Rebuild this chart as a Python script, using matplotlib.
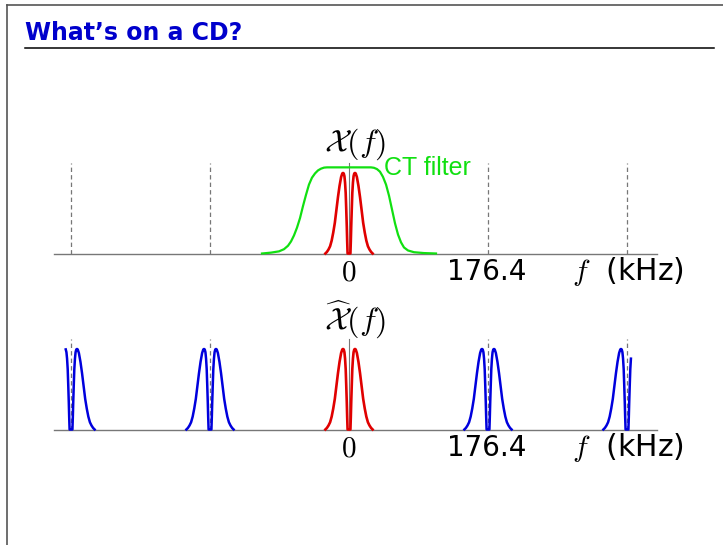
import numpy as np
import matplotlib
matplotlib.use("Agg")
import matplotlib.pyplot as plt

plt.rcParams['mathtext.fontset'] = 'cm'
plt.rcParams['font.family'] = ['DejaVu Sans']

# %% Values (frequency in kHz, heights relative to the audio peak)

fs_up = 176.4                      # oversampled rate, spectral copies sit at its multiples
copy_centres = [-2 * fs_up, -fs_up, fs_up, 2 * fs_up]
dash_at = [-2 * fs_up, -fs_up, fs_up, 2 * fs_up]
tick_labels = ['0', '176.4']
spec_range = (-360.0, 358.5)       # where the plotted spectrum stops
axis_range = (-374.0, 391.0)

# one side of the audio spectrum (positive f, mirrored for negative f)
hump_f = [1.8, 2.3, 2.8, 3.5, 4.2, 5.0, 5.8, 6.7, 7.6, 8.5, 10.0, 12.0, 14.0,
          16.0, 18.0, 20.0, 22.0, 24.0, 26.0, 28.0, 30.0]
hump_y = [0.0, 0.15, 0.33, 0.55, 0.75, 0.88, 0.96, 0.995, 1.0, 0.995, 0.95, 0.84,
          0.70, 0.54, 0.38, 0.26, 0.16, 0.09, 0.05, 0.02, 0.0]

# continuous-time reconstruction filter
ct_f = [-110.4, -99.0, -88.8, -82.5, -77.4, -73.6, -69.8, -66.0, -62.2, -58.4,
        -54.6, -50.8, -47.0, -43.1, -39.3, -35.5, -31.7, -27.9,
        27.9, 31.7, 35.5, 39.3, 43.1, 47.0, 50.8, 54.6, 58.4, 62.2, 66.0, 69.8,
        74.9, 82.5, 95.2, 110.4]
ct_y = [0.0, 0.01, 0.025, 0.05, 0.09, 0.14, 0.21, 0.30, 0.41, 0.55,
        0.68, 0.80, 0.88, 0.93, 0.965, 0.985, 0.997, 1.0,
        1.0, 0.995, 0.98, 0.95, 0.89, 0.80, 0.67, 0.51, 0.35, 0.22, 0.13, 0.07,
        0.035, 0.015, 0.005, 0.0]
ct_scale = 1.07
dash_top = 1.13

red = '#e00000'
blue = '#0000dd'
green = '#11e011'
grey = '#777777'

# full two-sided audio spectrum
hf = np.array(hump_f)
hy = np.array(hump_y)
audio_f = np.concatenate([-hf[::-1], [0.0], hf])
audio_y = np.concatenate([hy[::-1], [0.0], hy])

# %% Figure

fig = plt.figure(figsize=(7.23, 5.45), dpi=100)

# slide frame and title (pixel coordinates)
bg = fig.add_axes([0, 0, 1, 1])
bg.set_xlim(0, 723)
bg.set_ylim(545, 0)
bg.axis('off')
bg.plot([7, 7], [5, 545], color='#555555', lw=1.2)
bg.plot([7, 723], [5, 5], color='#555555', lw=1.2)
bg.plot([25, 714], [48, 48], color='black', lw=1.1)
bg.text(25, 39.5, 'What\u2019s on a CD?', color='#0000cc', fontsize=17,
        fontweight='bold', va='baseline', ha='left')

kpx = 1.2691   # kHz per pixel
unit = 80.5    # pixels per unit height


def make_axes(top_px, bot_px, axis_px):
    ax = fig.add_axes([0, 1 - bot_px / 545, 1, (bot_px - top_px) / 545])
    ax.set_xlim(-349 * kpx, (723 - 349) * kpx)
    ax.set_ylim(-(bot_px - axis_px) / unit, (axis_px - top_px) / unit)
    ax.axis('off')
    return ax


def frame_axis(ax):
    for d in dash_at:
        ax.plot([d, d], [0, dash_top], color=grey, lw=0.9, dashes=(3.5, 2.5), zorder=1)
    ax.plot([0, 0], [0, dash_top], color=grey, lw=0.8, zorder=1)
    ax.plot(axis_range, [0, 0], color=grey, lw=1.0, zorder=1)
    ax.text(0, -0.33, '$' + tick_labels[0] + '$', fontsize=21, ha='center', va='baseline')
    ax.text(fs_up - 1.5, -0.33, tick_labels[1], fontsize=20, ha='center', va='baseline')
    ax.text(2 * fs_up + 1.0, -0.33, '$f$  (kHz)', fontsize=21.5, ha='center', va='baseline')


# top: original spectrum and CT filter
ax1 = make_axes(100, 290, 253.5)
frame_axis(ax1)
ax1.plot(ct_f, np.array(ct_y) * ct_scale, color=green, lw=1.6, zorder=2)
ax1.plot(audio_f, audio_y, color=red, lw=1.9, zorder=3)
ax1.text(7.6, 1.27, r'$\mathcal{X}(f)$', fontsize=23, ha='center', va='baseline')
ax1.text(44.4, 0.98, 'CT filter', color=green, fontsize=18,
         family='Liberation Sans', ha='left', va='baseline')

# bottom: spectrum after upsampling with images at multiples of 176.4 kHz
ax2 = make_axes(290, 470, 429.5)
frame_axis(ax2)
for c in copy_centres:
    f = audio_f + c
    keep = (f >= spec_range[0]) & (f <= spec_range[1])
    ax2.plot(f[keep], audio_y[keep], color=blue, lw=1.8, zorder=3)
ax2.plot(audio_f, audio_y, color=red, lw=1.9, zorder=3)
ax2.text(7.6, 1.236, r'$\widehat{\mathcal{X}}(f)$', fontsize=23, ha='center', va='baseline')

fig.savefig('out.png', dpi=100)
